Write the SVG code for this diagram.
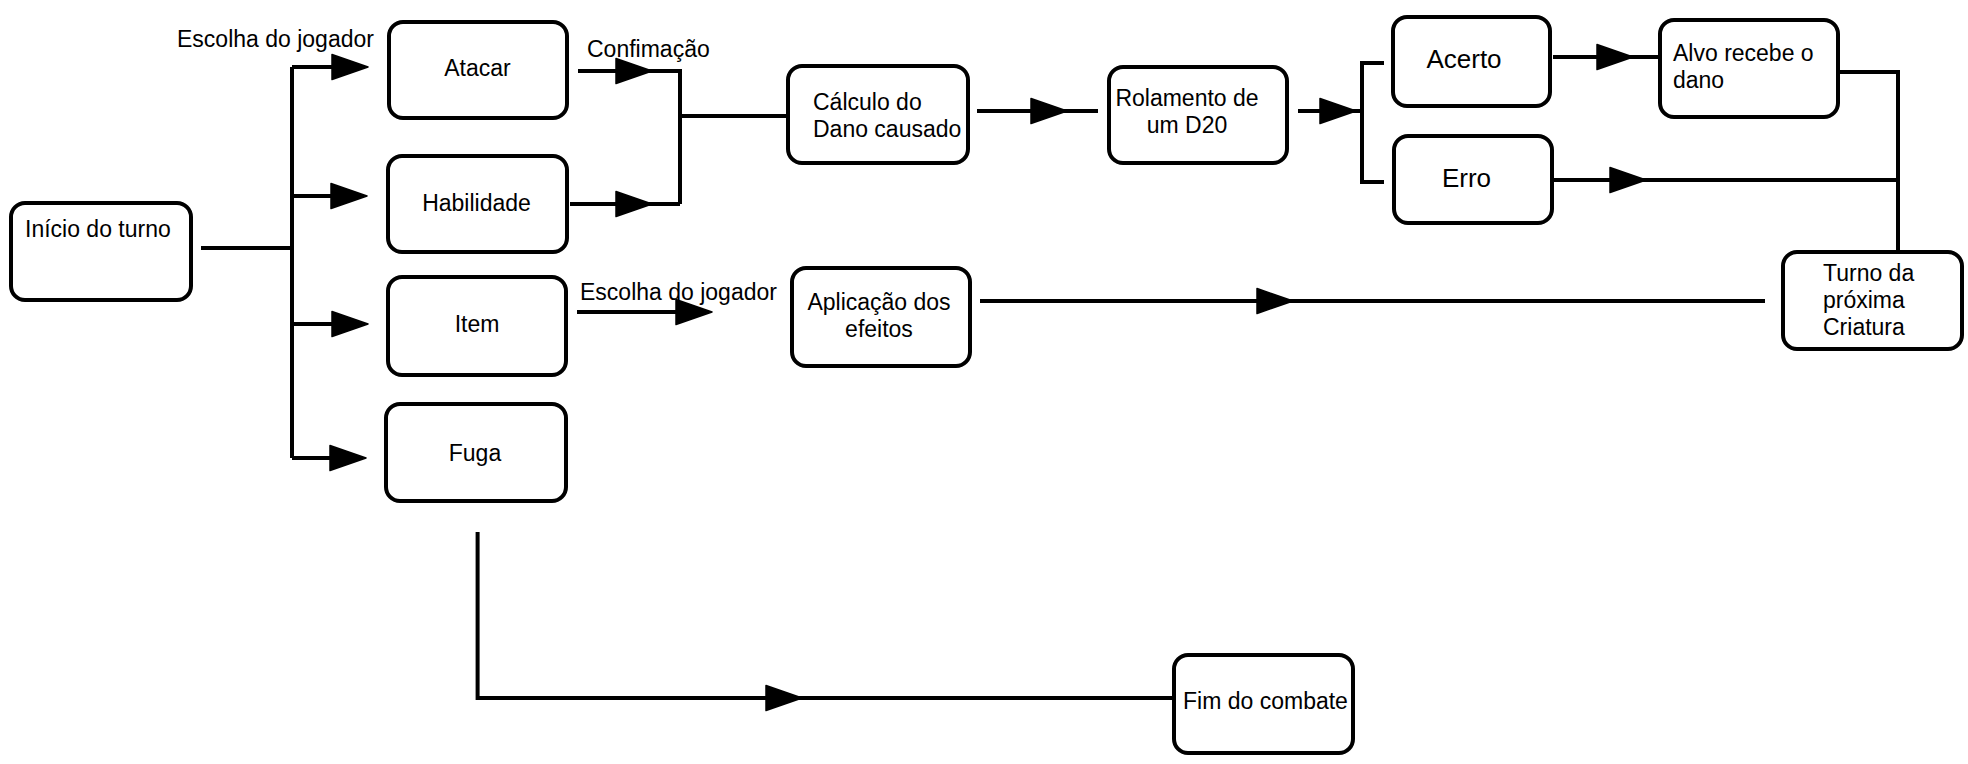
<svg xmlns="http://www.w3.org/2000/svg" xmlns:xlink="http://www.w3.org/1999/xlink" width="1968" height="764" viewBox="0 0 1968 764">
<style>
.box{fill:#fff;stroke:#000;stroke-width:4}
.t{font-family:"Liberation Sans",Arial,sans-serif;font-size:23px;fill:#000}
.big{font-size:26px}
.c{text-anchor:middle}
.ln{fill:none;stroke:#000;stroke-width:4}
</style>
<defs>
<polygon id="tri" points="0,-12.5 36,0 0,12.5" fill="#000" stroke="#000" stroke-width="1.5" stroke-linejoin="round"/>
</defs>
<rect width="1968" height="764" fill="#fff"/>

<g id="connectors">
<path class="ln" d="M201,248 H292"/>
<path class="ln" d="M292,67 V458"/>
<path class="ln" d="M292,67 H334"/><use href="#tri" x="332" y="67"/>
<path class="ln" d="M292,196 H334"/><use href="#tri" x="331" y="196"/>
<path class="ln" d="M292,324 H334"/><use href="#tri" x="332" y="324"/>
<path class="ln" d="M292,458 H334"/><use href="#tri" x="330" y="458"/>
<path class="ln" d="M578,71 H680 V204"/><use href="#tri" x="616" y="71"/>
<path class="ln" d="M570,204 H680"/><use href="#tri" x="616" y="204"/>
<path class="ln" d="M680,116 H788"/>
<path class="ln" d="M977,111 H1098"/><use href="#tri" x="1031" y="111"/>
<path class="ln" d="M1298,111 H1362"/><use href="#tri" x="1320" y="111"/>
<path class="ln" d="M1384,63 H1362 V182 H1384"/>
<path class="ln" d="M1553,57 H1660"/><use href="#tri" x="1597" y="57"/>
<path class="ln" d="M1839,72 H1898 V251"/>
<path class="ln" d="M1553,180 H1898"/><use href="#tri" x="1610" y="180"/>
<path class="ln" d="M980,301 H1765"/><use href="#tri" x="1257" y="301"/>
<path class="ln" d="M577,312 H690"/><use href="#tri" x="676" y="312"/>
<path class="ln" d="M477.6,532 V698 H1174"/><use href="#tri" x="766" y="698"/>
<text class="t" x="177" y="47">Escolha do jogador</text>
<text class="t" x="587" y="57">Confimação</text>
<text class="t" x="580" y="300">Escolha do jogador</text>
</g>

<g id="inicio"><rect class="box" x="11" y="203" width="180" height="97" rx="14"/><text class="t" x="25" y="237">Início do turno</text></g>
<g id="atacar"><rect class="box" x="389" y="22" width="178" height="96" rx="14"/><text class="t c" x="477.5" y="76">Atacar</text></g>
<g id="habilidade"><rect class="box" x="388" y="156" width="179" height="96" rx="14"/><text class="t c" x="476.5" y="211">Habilidade</text></g>
<g id="item"><rect class="box" x="388" y="277" width="178" height="98" rx="14"/><text class="t c" x="477" y="332">Item</text></g>
<g id="fuga"><rect class="box" x="386" y="404" width="180" height="97" rx="14"/><text class="t c" x="475" y="461">Fuga</text></g>
<g id="calculo"><rect class="box" x="788" y="66" width="180" height="97" rx="14"/><text class="t" x="813" y="110">Cálculo do</text><text class="t" x="813" y="137">Dano causado</text></g>
<g id="rolamento"><rect class="box" x="1109" y="67" width="178" height="96" rx="14"/><text class="t c" x="1187" y="106">Rolamento de</text><text class="t c" x="1187" y="133">um D20</text></g>
<g id="acerto"><rect class="box" x="1393" y="17" width="157" height="89" rx="14"/><text class="t big c" x="1464" y="68">Acerto</text></g>
<g id="erro"><rect class="box" x="1394" y="136" width="158" height="87" rx="14"/><text class="t big c" x="1466.5" y="187">Erro</text></g>
<g id="alvo"><rect class="box" x="1660" y="20" width="178" height="97" rx="14"/><text class="t" x="1673" y="61">Alvo recebe o</text><text class="t" x="1673" y="88">dano</text></g>
<g id="turno"><rect class="box" x="1783" y="252" width="179" height="97" rx="14"/><text class="t" x="1823" y="281">Turno da</text><text class="t" x="1823" y="308">próxima</text><text class="t" x="1823" y="335">Criatura</text></g>
<g id="aplicacao"><rect class="box" x="792" y="268" width="178" height="98" rx="14"/><text class="t c" x="879" y="310">Aplicação dos</text><text class="t c" x="879" y="337">efeitos</text></g>
<g id="fim"><rect class="box" x="1174" y="655" width="179" height="98" rx="14"/><text class="t" x="1183" y="709">Fim do combate</text></g>
</svg>
